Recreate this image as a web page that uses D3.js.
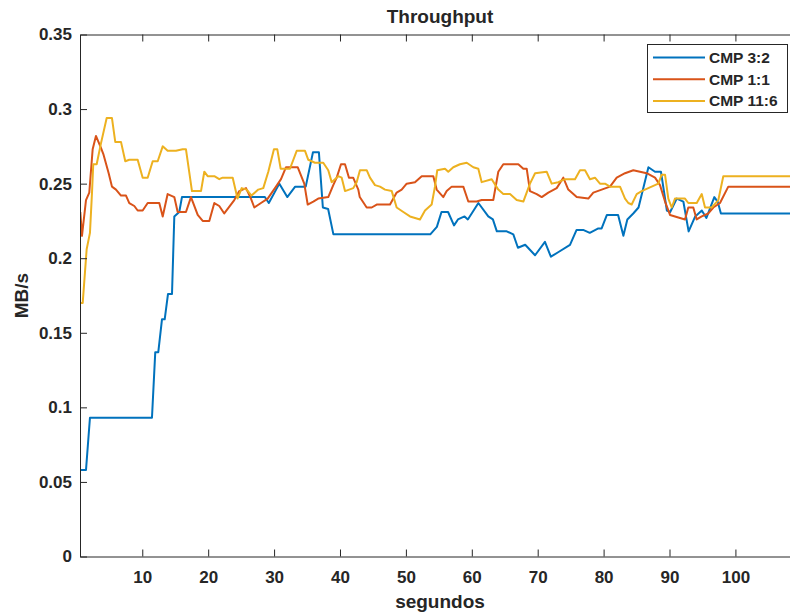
<!DOCTYPE html>
<html>
<head>
<meta charset="utf-8">
<script src="https://d3js.org/d3.v7.min.js"></script>
<style>
  body { margin: 0; background: #fff; }
  text { font-family: "Liberation Sans", Arial, sans-serif; font-weight: bold; fill: #262626; }
</style>
</head>
<body>
<div id="chart"></div>
<script>
// series names + colours (MATLAB default order)
var seriesNames = ['CMP 3:2', 'CMP 1:1', 'CMP 11:6']
var seriesColors = ['#0072BD', '#D95319', '#EDB120']

var xTicks = [10, 20, 30, 40, 50, 60, 70, 80, 90, 100]
var yTicks = [0, 0.05, 0.1, 0.15, 0.2, 0.25, 0.3, 0.35]
var yTickLabels = ['0', '0.05', '0.1', '0.15', '0.2', '0.25', '0.3', '0.35']

// CMP 3:2 (seconds, MB/s)
var t32 = [0.6, 1.46, 2.06, 11.47, 11.97, 12.43, 12.99, 13.4, 13.9, 14.51, 14.86, 15.61, 16.02,
  28.6, 29.2, 30.8, 32.0, 33.2, 34.8, 35.9, 36.8, 37.4, 38.2, 39.0, 53.7, 54.7, 55.4, 56.4,
  57.3, 57.9, 58.9, 59.4, 61.0, 62.5, 63.2, 63.8, 65.3, 66.3, 67.0, 68.1, 69.6, 71.1, 72.0,
  73.1, 74.9, 75.9, 76.9, 77.9, 79.2, 79.7, 80.5, 82.2, 83.0, 83.6, 84.5, 85.3, 86.8, 87.8,
  88.7, 89.6, 90.1, 91.1, 92.1, 92.9, 93.9, 94.9, 95.6, 96.8, 97.3, 97.8, 110]
var v32 = [0.058, 0.058, 0.093, 0.093, 0.137, 0.137, 0.159, 0.159, 0.176, 0.176, 0.228, 0.231, 0.241,
  0.241, 0.237, 0.250, 0.241, 0.248, 0.248, 0.271, 0.271, 0.234, 0.233, 0.216, 0.216, 0.221, 0.231, 0.231,
  0.222, 0.226, 0.228, 0.226, 0.237, 0.228, 0.226, 0.218, 0.218, 0.216, 0.207, 0.209, 0.202, 0.211, 0.201,
  0.204, 0.209, 0.219, 0.219, 0.217, 0.220, 0.220, 0.229, 0.229, 0.215, 0.226, 0.230, 0.234, 0.261, 0.258,
  0.258, 0.232, 0.231, 0.240, 0.238, 0.218, 0.228, 0.232, 0.227, 0.241, 0.238, 0.230, 0.230]

// CMP 1:1
var t11 = [0.6, 0.85, 1.46, 1.96, 2.47, 2.97, 3.73, 4.08, 4.9, 5.4, 6.01, 6.77, 7.53, 8.03, 8.79,
  9.3, 10.06, 10.82, 12.58, 13.1, 13.85, 14.86, 15.37, 16.63, 17.39, 18.41, 19.17, 20.17, 20.93,
  21.68, 22.44, 23.96, 24.72, 25.74, 26.49, 27.0, 28.01, 29.03, 30.29, 31.05, 31.81, 33.58, 34.58,
  35.1, 35.95, 36.7, 38.22, 38.98, 39.5, 40.15, 40.76, 41.36, 42.0, 42.78, 43.0, 44.05, 44.81,
  45.57, 47.59, 48.6, 49.36, 50.12, 51.38, 52.4, 54.16, 54.67, 55.68, 56.19, 56.95, 58.71, 59.47,
  60.74, 61.5, 63.26, 64.02, 64.78, 67.06, 67.82, 68.33, 68.83, 69.85, 70.61, 71.61, 72.88, 73.88,
  74.64, 75.92, 77.68, 78.44, 79.71, 80.97, 81.99, 83.25, 84.51, 85.52, 86.54, 87.8, 88.56, 89.32,
  90.08, 91.59, 92.35, 92.85, 93.61, 94.12, 94.89, 95.89, 96.65, 97.66, 98.92, 110]
var v11 = [0.231, 0.215, 0.239, 0.244, 0.273, 0.282, 0.274, 0.270, 0.257, 0.248, 0.246, 0.242, 0.242, 0.237, 0.235,
  0.232, 0.232, 0.237, 0.237, 0.228, 0.243, 0.241, 0.231, 0.231, 0.241, 0.229, 0.225, 0.225, 0.237,
  0.235, 0.230, 0.239, 0.245, 0.247, 0.240, 0.234, 0.237, 0.240, 0.248, 0.253, 0.261, 0.261, 0.250,
  0.236, 0.238, 0.240, 0.241, 0.249, 0.254, 0.263, 0.263, 0.254, 0.254, 0.246, 0.241, 0.234, 0.234,
  0.236, 0.236, 0.244, 0.246, 0.250, 0.251, 0.255, 0.255, 0.246, 0.241, 0.245, 0.248, 0.248, 0.238,
  0.238, 0.239, 0.239, 0.258, 0.263, 0.263, 0.260, 0.260, 0.245, 0.243, 0.241, 0.244, 0.247, 0.254,
  0.246, 0.241, 0.240, 0.244, 0.246, 0.248, 0.254, 0.257, 0.259, 0.258, 0.257, 0.254, 0.249, 0.238,
  0.229, 0.227, 0.226, 0.234, 0.234, 0.226, 0.228, 0.230, 0.234, 0.237, 0.248, 0.248]

// CMP 11:6
var t116 = [0.6, 0.96, 1.56, 2.06, 2.37, 2.56, 3.08, 3.73, 4.6, 5.4, 5.9, 6.77, 7.42, 8.03, 9.3,
  10.06, 10.82, 11.58, 12.34, 13.1, 13.85, 15.11, 16.13, 16.63, 17.54, 18.91, 19.41, 19.92, 20.93,
  21.68, 22.2, 23.72, 24.45, 25.08, 25.84, 26.57, 27.6, 28.36, 29.12, 29.98, 30.49, 31.0, 32.41,
  33.43, 34.69, 35.19, 36.2, 37.46, 38.22, 38.74, 39.74, 40.26, 40.76, 42.02, 42.53, 43.03, 44.05,
  44.55, 45.31, 46.07, 46.83, 47.85, 48.6, 49.61, 50.62, 52.14, 52.9, 53.91, 54.41, 54.76, 55.93,
  56.43, 57.19, 58.2, 59.23, 60.23, 60.99, 61.5, 63.02, 64.02, 64.78, 65.8, 66.81, 67.82, 68.83,
  69.6, 71.36, 72.12, 73.12, 74.14, 75.66, 76.42, 77.18, 77.93, 78.69, 79.45, 80.21, 80.97, 82.49,
  83.25, 83.75, 84.26, 85.02, 85.78, 86.78, 87.8, 88.3, 88.81, 89.32, 89.82, 90.33, 90.83, 92.35,
  92.85, 94.13, 94.89, 95.39, 96.4, 97.41, 98.16, 110]
var v116 = [0.170, 0.170, 0.206, 0.217, 0.244, 0.263, 0.263, 0.277, 0.294, 0.294, 0.278, 0.278, 0.265, 0.266, 0.266,
  0.254, 0.254, 0.265, 0.265, 0.275, 0.272, 0.272, 0.273, 0.273, 0.245, 0.245, 0.258, 0.255, 0.255,
  0.253, 0.254, 0.254, 0.240, 0.247, 0.246, 0.242, 0.246, 0.247, 0.258, 0.273, 0.273, 0.260, 0.260,
  0.272, 0.272, 0.266, 0.264, 0.264, 0.259, 0.251, 0.255, 0.254, 0.245, 0.247, 0.251, 0.259, 0.259,
  0.254, 0.249, 0.248, 0.246, 0.245, 0.234, 0.231, 0.228, 0.226, 0.232, 0.236, 0.248, 0.259, 0.260,
  0.258, 0.261, 0.263, 0.264, 0.261, 0.260, 0.251, 0.253, 0.246, 0.243, 0.243, 0.239, 0.238, 0.250,
  0.257, 0.258, 0.250, 0.251, 0.253, 0.253, 0.259, 0.259, 0.253, 0.254, 0.250, 0.250, 0.248, 0.248,
  0.240, 0.237, 0.236, 0.243, 0.245, 0.247, 0.249, 0.250, 0.256, 0.256, 0.240, 0.234, 0.240, 0.240,
  0.237, 0.237, 0.243, 0.234, 0.234, 0.239, 0.255, 0.255]

var seriesT = [t32, t11, t116]
var seriesV = [v32, v11, v116]

var W = 790, H = 614
// axes box (right edge falls just past the visible area)
var axL = 80, axT = 34.5, axR = 800, axB = 556.5
var tick = 7

var svg = d3.select('#chart').append('svg').attr('width', W).attr('height', H)

var x = d3.scaleLinear().domain([0.55, 109.8]).range([axL, axR])
var y = d3.scaleLinear().domain([0, 0.35]).range([axB, axT])

svg.append('defs').append('clipPath').attr('id', 'clip')
  .append('rect').attr('x', axL).attr('y', axT).attr('width', axR - axL).attr('height', axB - axT)

// lines first, axes on top
var line = d3.line().x(d => x(d[0])).y(d => y(d[1]))
var plot = svg.append('g').attr('clip-path', 'url(#clip)')
seriesNames.forEach(function(name, i) {
  var pts = seriesT[i].map((t, j) => [t, seriesV[i][j]])
  plot.append('path').datum(pts)
    .attr('d', line)
    .attr('fill', 'none')
    .attr('stroke', seriesColors[i])
    .attr('stroke-width', 2)
    .attr('stroke-linejoin', 'round')
})

function styleAxis(g) {
  g.selectAll('.domain').attr('stroke', '#262626')
  g.selectAll('.tick line').attr('stroke', '#262626')
  g.selectAll('text').attr('font-size', 17).attr('fill', '#262626')
}

svg.append('g').attr('transform', 'translate(0,' + axB + ')')
  .call(d3.axisBottom(x).tickValues(xTicks).tickSizeInner(-tick).tickSizeOuter(0).tickPadding(14))
  .call(styleAxis)
svg.append('g').attr('transform', 'translate(0,' + axT + ')')
  .call(d3.axisTop(x).tickValues(xTicks).tickSizeInner(-tick).tickSizeOuter(0).tickFormat(''))
  .call(styleAxis)
svg.append('g').attr('transform', 'translate(' + axL + ',0)')
  .call(d3.axisLeft(y).tickValues(yTicks).tickSizeInner(-tick).tickSizeOuter(0).tickPadding(8)
    .tickFormat((d, i) => yTickLabels[i]))
  .call(styleAxis)
svg.append('g').attr('transform', 'translate(' + axR + ',0)')
  .call(d3.axisRight(y).tickValues(yTicks).tickSizeInner(-tick).tickSizeOuter(0).tickFormat(''))
  .call(styleAxis)

svg.selectAll('text').attr('font-weight', 'bold')

// title + labels
var midX = (axL + axR) / 2
svg.append('text').attr('x', midX).attr('y', 23)
  .attr('text-anchor', 'middle').attr('font-size', 19).text('Throughput')
svg.append('text').attr('x', midX).attr('y', 608)
  .attr('text-anchor', 'middle').attr('font-size', 19).text('segundos')
svg.append('text').attr('transform', 'translate(28,' + ((axT + axB) / 2) + ') rotate(-90)')
  .attr('text-anchor', 'middle').attr('font-size', 19).text('MB/s')

// legend
var lg = svg.append('g').attr('transform', 'translate(647,44)')
lg.append('rect').attr('x', 0.5).attr('y', 0.5).attr('width', 140).attr('height', 68)
  .attr('fill', '#fff').attr('stroke', '#262626').attr('stroke-width', 1)
seriesNames.forEach(function(name, i) {
  var ry = 13.5 + i * 21.7
  lg.append('line').attr('x1', 6).attr('x2', 58).attr('y1', ry).attr('y2', ry)
    .attr('stroke', seriesColors[i]).attr('stroke-width', 2)
  lg.append('text').attr('x', 62).attr('y', ry).attr('dy', '0.36em')
    .attr('font-size', 15.5).text(name)
})
</script>
</body>
</html>
